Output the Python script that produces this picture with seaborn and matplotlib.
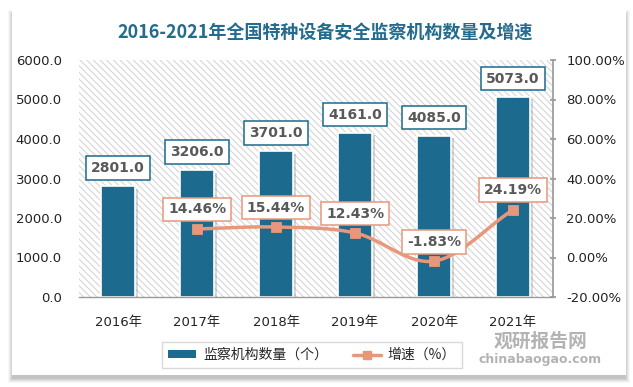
import numpy as np
import pandas as pd
import matplotlib
matplotlib.use("Agg")
import matplotlib.pyplot as plt
import matplotlib.patheffects as pe
from matplotlib.patches import Rectangle
from matplotlib.lines import Line2D
from matplotlib.patches import Patch
import seaborn as sns

years = ["2016年", "2017年", "2018年", "2019年", "2020年", "2021年"]
counts = [2801.0, 3206.0, 3701.0, 4161.0, 4085.0, 5073.0]
growth = [None, 14.46, 15.44, 12.43, -1.83, 24.19]
left_ticks = [0, 1000, 2000, 3000, 4000, 5000, 6000]
right_ticks = [-20, 0, 20, 40, 60, 80, 100]
title = "2016-2021年全国特种设备安全监察机构数量及增速"
bar_name = "监察机构数量（个）"
line_name = "增速（%）"

sns.set_theme(style="white")
plt.rcParams['font.family'] = ['DejaVu Sans', 'Noto Sans CJK SC']
plt.rcParams['hatch.color'] = '#d6d6d6'
plt.rcParams['hatch.linewidth'] = 0.8

BAR = '#1C6A8D'
LINE = '#E8977A'
TXT = '#595959'

W, H = 633, 387
fig = plt.figure(figsize=(W / 100, H / 100), dpi=100, facecolor='#ffffff')

def fx(px):
    return px / W

def fy(py):
    return 1 - py / H

# card shadow + card
for i, a in enumerate([0.03, 0.04, 0.05, 0.06, 0.07]):
    d = 6 - i
    fig.patches.append(Rectangle((fx(12 - d + 2), fy(375 + d + 2)), fx(614 + 2 * d - 4), (365 + 2 * d - 4) / H,
                                 transform=fig.transFigure, facecolor='black', alpha=a, edgecolor='none',
                                 zorder=-10))
fig.patches.append(Rectangle((fx(12), fy(375)), fx(614), 365 / H, transform=fig.transFigure,
                             facecolor='white', edgecolor='none', zorder=-9))

ax = fig.add_axes([fx(78.5), fy(297), fx(552.5 - 78.5), (297 - 60) / H])
ax.set_facecolor('none')
ax.add_patch(Rectangle((0, 0), 1, 1, transform=ax.transAxes, facecolor='white', edgecolor='#d6d6d6',
                       linewidth=0, hatch='\\\\\\\\\\', zorder=0))

df = pd.DataFrame({"year": years, "count": counts, "growth": growth})
df["pos"] = np.arange(len(df))

sns.barplot(data=df, x="year", y="count", color=BAR, width=0.44, saturation=1, ax=ax,
            edgecolor='white', linewidth=1.2, zorder=2)
for p in ax.patches:
    if p.get_zorder() == 2:
        p.set_path_effects([pe.SimplePatchShadow(offset=(2, -2), shadow_rgbFace='#666666', alpha=0.25),
                            pe.Normal()])

ax.set_ylim(0, 6000)
ax.set_xlim(-0.5, len(years) - 0.5)
ax.set_yticks(left_ticks)
ax.set_yticklabels([f"{v:.1f}" for v in left_ticks], fontsize=9.5, color='#222222')
ax.set_xlabel("")
ax.set_ylabel("")
ax.tick_params(axis='x', labelsize=9.5, colors='#222222', length=0, pad=14)
ax.tick_params(axis='y', length=0, pad=12)
ax.set_xticks(df["pos"])
ax.set_xticklabels(years, family=['DejaVu Sans', 'Noto Sans CJK SC'])
for s in ['top', 'left', 'right']:
    ax.spines[s].set_visible(False)
ax.spines['bottom'].set_color('#9a9a9a')
ax.spines['bottom'].set_linewidth(1)

for xp, v in zip(df["pos"], df["count"]):
    ax.annotate(f"{v:.1f}", (xp, v), xytext=(0, 13), textcoords='offset points', ha='center', va='center',
                fontsize=10, fontweight='bold', color=TXT, zorder=6,
                bbox=dict(boxstyle='square,pad=0.35', fc='white', ec=BAR, lw=1.1))

ax2 = ax.twinx()
ax2.set_ylim(-20, 100)
ax2.set_yticks(right_ticks)
ax2.set_yticklabels([f"{v:.2f}%" for v in right_ticks], fontsize=9.5, color='#222222')
ax2.tick_params(axis='y', length=4, direction='inout', color='#9a9a9a', pad=8)
for s in ['top', 'left', 'bottom']:
    ax2.spines[s].set_visible(False)
ax2.spines['right'].set_color('#9a9a9a')

gd = df.dropna(subset=["growth"])
xs = gd["pos"].to_numpy(dtype=float)
ys = gd["growth"].to_numpy(dtype=float)
# smooth curve through the points (Catmull-Rom)
P = np.column_stack([xs, ys])
P = np.vstack([P[0] - (P[1] - P[0]), P, P[-1] + (P[-1] - P[-2])])
cx, cy = [], []
t = np.linspace(0, 1, 30)
for i in range(1, len(P) - 2):
    p0, p1, p2, p3 = P[i - 1], P[i], P[i + 1], P[i + 2]
    for tt in t:
        q = 0.5 * ((2 * p1) + (-p0 + p2) * tt + (2 * p0 - 5 * p1 + 4 * p2 - p3) * tt ** 2 +
                   (-p0 + 3 * p1 - 3 * p2 + p3) * tt ** 3)
        cx.append(q[0]); cy.append(q[1])
ax2.plot(cx, cy, color=LINE, lw=2.5, zorder=3, solid_capstyle='round')
sns.scatterplot(data=gd, x="pos", y="growth", marker='s', s=55, color=LINE, edgecolor=LINE, ax=ax2,
                zorder=4, legend=False)
ax2.set_xlabel("")
ax2.set_ylabel("")
ax2.set_xlim(-0.5, len(years) - 0.5)

for xp, v in zip(gd["pos"], gd["growth"]):
    ax2.annotate(f"{v:.2f}%", (xp, v), xytext=(0, 14), textcoords='offset points', ha='center', va='center',
                 fontsize=10, fontweight='bold', color=TXT, zorder=6,
                 bbox=dict(boxstyle='square,pad=0.35', fc='white', ec=LINE, lw=1.1))

fig.text(fx(325), fy(32), title, ha='center', va='center', fontsize=13, fontweight='bold', color='#236C8E',
         family=['Noto Sans CJK SC', 'DejaVu Sans'])

handles = [Patch(facecolor=BAR, edgecolor='none'),
           Line2D([0], [0], color=LINE, lw=2.5, marker='s', markersize=6)]
leg = fig.legend(handles, [bar_name, line_name], loc='center', bbox_to_anchor=(fx(312), fy(355)), ncol=2,
                 frameon=True, fancybox=False, edgecolor='#d0d0d0', handlelength=2.0,
                 handleheight=0.5, columnspacing=1.8, borderpad=0.45, handletextpad=0.5,
                 prop={'family': ['Noto Sans CJK SC', 'DejaVu Sans'], 'size': 10})
leg.get_frame().set_linewidth(1)

fig.text(fx(540), fy(341), "观研报告网", ha='center', va='center', fontsize=13.5, fontweight='bold',
         color='#a0a0a0', alpha=0.8, family=['Noto Sans CJK SC'], zorder=10)
fig.text(fx(540), fy(360), "chinabaogao.com", ha='center', va='center', fontsize=9, fontweight='bold',
         color='#a0a0a0', alpha=0.8, zorder=10)

fig.savefig("out.png", dpi=100, facecolor=fig.get_facecolor())
